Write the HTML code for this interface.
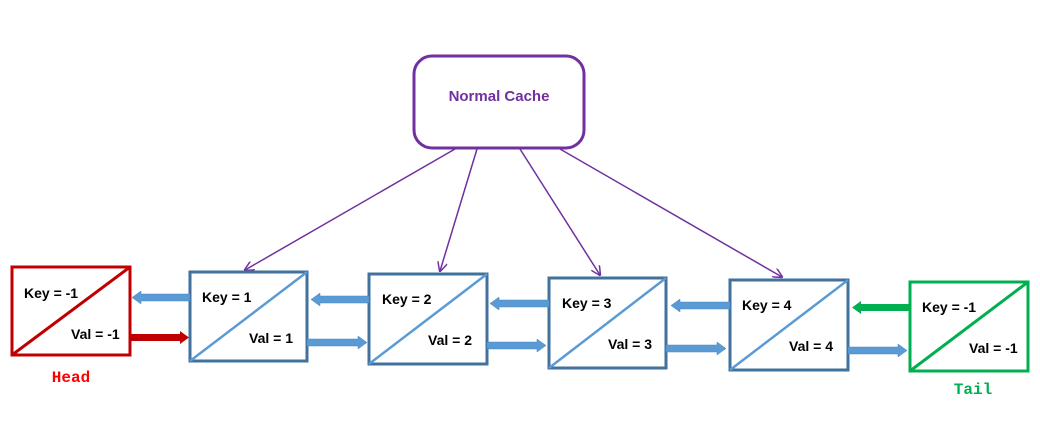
<!DOCTYPE html>
<html><head><meta charset="utf-8"><style>
html,body{margin:0;padding:0;background:#fff;width:1040px;height:433px;overflow:hidden}
text{font-family:"Liberation Sans",sans-serif;font-weight:bold;font-size:14px;fill:#000}
</style></head><body>
<svg width="1040" height="433" viewBox="0 0 1040 433" xmlns="http://www.w3.org/2000/svg">
<defs>
<marker id="pa" markerWidth="10" markerHeight="10" refX="9" refY="5" orient="auto" markerUnits="userSpaceOnUse"><path d="M0,0 L10,5 L0,10" fill="none" stroke="#7030a0" stroke-width="1.5"/></marker>
</defs>
<rect x="414" y="56" width="170" height="92" rx="18" fill="#fff" stroke="#7030a0" stroke-width="3"/>
<text x="499" y="101" text-anchor="middle" style="fill:#7030a0;font-size:15px">Normal Cache</text>
<g stroke="#7030a0" stroke-width="1.5" marker-end="url(#pa)">
<line x1="455" y1="149" x2="245" y2="270"/>
<line x1="477" y1="149" x2="440" y2="271"/>
<line x1="520" y1="149" x2="600" y2="275"/>
<line x1="560" y1="149" x2="782" y2="277"/>
</g>
<rect x="12" y="267" width="118" height="88" fill="#fff" stroke="#c00000" stroke-width="3"/>
<line x1="12" y1="355" x2="130" y2="267" stroke="#c00000" stroke-width="3"/>
<text x="24" y="298">Key = -1</text><text x="71" y="339">Val = -1</text>
<text x="71" y="382" text-anchor="middle" style="font-family:'Liberation Mono',monospace;fill:#ff0000;font-size:16px">Head</text>
<g fill="#fff" stroke="#41719c" stroke-width="3">
<rect x="190" y="272" width="117" height="89"/>
<rect x="369" y="274" width="118" height="90"/>
<rect x="549" y="278" width="117" height="90"/>
<rect x="730" y="280" width="118" height="90"/>
</g>
<g stroke="#5b9bd5" stroke-width="2.5">
<line x1="190" y1="361" x2="307" y2="272"/>
<line x1="369" y1="364" x2="487" y2="274"/>
<line x1="549" y1="368" x2="666" y2="278"/>
<line x1="730" y1="370" x2="848" y2="280"/>
</g>
<text x="202" y="302">Key = 1</text><text x="249" y="343">Val = 1</text>
<text x="382" y="304">Key = 2</text><text x="428" y="345">Val = 2</text>
<text x="562" y="308">Key = 3</text><text x="608" y="349">Val = 3</text>
<text x="742" y="310">Key = 4</text><text x="789" y="351">Val = 4</text>
<rect x="910" y="282" width="118" height="89" fill="#fff" stroke="#00b050" stroke-width="3"/>
<line x1="910" y1="371" x2="1028" y2="282" stroke="#00b050" stroke-width="3"/>
<text x="922" y="312">Key = -1</text><text x="969" y="353">Val = -1</text>
<text x="973" y="394" text-anchor="middle" style="font-family:'Liberation Mono',monospace;fill:#00b050;font-size:16px">Tail</text>
<g fill="#5b9bd5" stroke="#4a86bf" stroke-width="0.5">
<path d="M190,294 L141,294 L141,291 L132,297.5 L141,304 L141,301 L190,301 Z"/>
<path d="M307,339 L358,339 L358,336 L367,342.5 L358,349 L358,346 L307,346 Z"/>
<path d="M369,296 L320,296 L320,293 L311,299.5 L320,306 L320,303 L369,303 Z"/>
<path d="M487,342 L537,342 L537,339 L546,345.5 L537,352 L537,349 L487,349 Z"/>
<path d="M549,300 L499,300 L499,297 L490,303.5 L499,310 L499,307 L549,307 Z"/>
<path d="M666,345 L717,345 L717,342 L726,348.5 L717,355 L717,352 L666,352 Z"/>
<path d="M730,302 L680,302 L680,299 L671,305.5 L680,312 L680,309 L730,309 Z"/>
<path d="M848,347 L898,347 L898,344 L907,350.5 L898,357 L898,354 L848,354 Z"/>
</g>
<path d="M130,334 L180,334 L180,331 L189,337.5 L180,344 L180,341 L130,341 Z" fill="#c00000"/>
<path d="M910,304 L861,304 L861,301 L852,307.5 L861,314 L861,311 L910,311 Z" fill="#00b050"/>
</svg>
</body></html>
